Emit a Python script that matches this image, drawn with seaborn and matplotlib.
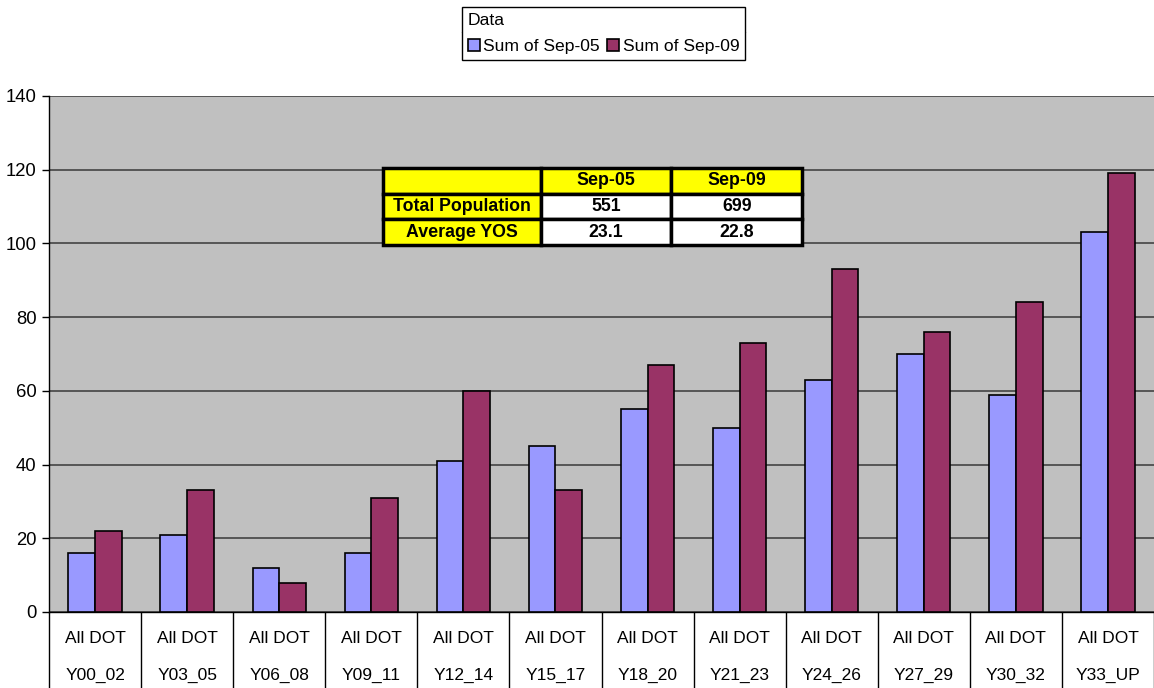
import numpy as np
import pandas as pd
import matplotlib
matplotlib.use("Agg")
import matplotlib.pyplot as plt
from matplotlib.patches import Patch
from matplotlib.lines import Line2D
import seaborn as sns

# Headcount by years-of-service band
groups = ["All DOT\nY00_02", "All DOT\nY03_05", "All DOT\nY06_08", "All DOT\nY09_11",
          "All DOT\nY12_14", "All DOT\nY15_17", "All DOT\nY18_20", "All DOT\nY21_23",
          "All DOT\nY24_26", "All DOT\nY27_29", "All DOT\nY30_32", "All DOT\nY33_UP"]
sep05 = [16, 21, 12, 16, 41, 45, 55, 50, 63, 70, 59, 103]
sep09 = [22, 33, 8, 31, 60, 33, 67, 73, 93, 76, 84, 119]
series = ["Sum of Sep-05", "Sum of Sep-09"]
yticks = [0, 20, 40, 60, 80, 100, 120, 140]

# Summary table
table_cols = ["", "Sep-05", "Sep-09"]
table_rows = [["Total Population", "551", "699"],
              ["Average YOS", "23.1", "22.8"]]

colors = ["#9999FF", "#993366"]

df = pd.DataFrame({
    "group": groups * 2,
    "value": sep05 + sep09,
    "series": [series[0]] * len(groups) + [series[1]] * len(groups),
})

sns.set_theme(style="white")
plt.rcParams["font.family"] = ["Liberation Sans", "DejaVu Sans"]

fig = plt.figure(figsize=(11.54, 6.88), dpi=100)
ax = fig.add_axes([49 / 1154, 1 - 612 / 688, 1 - 49 / 1154, (612 - 96) / 688])
ax.set_facecolor("#C0C0C0")

sns.barplot(data=df, x="group", y="value", hue="series", palette=colors,
            saturation=1, width=0.58, gap=0, edgecolor="black", linewidth=1.2,
            ax=ax, legend=False, zorder=3)

ax.set_ylim(0, 140)
ax.set_xlim(-0.5, len(groups) - 0.5)
ax.set_yticks(yticks)
ax.yaxis.grid(True, color="#4d4d4d", linewidth=1.3, zorder=0)
ax.set_axisbelow(True)
ax.set_xlabel("")
ax.set_ylabel("")

for side in ["top", "right"]:
    ax.spines[side].set_visible(False)
for side in ["left", "bottom"]:
    ax.spines[side].set_color("black")
    ax.spines[side].set_linewidth(1.0)

ax.tick_params(axis="y", which="major", left=True, length=5, width=1,
               color="black", labelsize=13.3, pad=4, labelcolor="black")
ax.set_xticks(range(len(groups)))
ax.set_xticklabels(groups, fontsize=12.5, linespacing=2.75, color="black")
ax.tick_params(axis="x", which="major", bottom=False, pad=8)
ax.set_xticks(np.arange(-0.5, len(groups)), minor=True)
ax.tick_params(axis="x", which="minor", bottom=True, length=56, width=1,
               color="black")

# Summary table inside the plot area
tbl = ax.table(cellText=table_rows, colLabels=table_cols,
               colWidths=[157, 130, 130], cellLoc="center",
               bbox=[(383 - 49) / 1105, (612 - 245) / 516,
                     (802 - 383) / 1105, (245 - 168) / 516])
tbl.auto_set_font_size(False)
for (r, c), cell in tbl.get_celld().items():
    cell.set_edgecolor("black")
    cell.set_linewidth(2.5)
    cell.get_text().set_fontsize(12.8)
    cell.get_text().set_fontweight("bold")
    cell.get_text().set_color("black")
    if r == 0 or c == 0:
        cell.set_facecolor("#FFFF00")
    else:
        cell.set_facecolor("white")
tbl.set_zorder(5)

# Legend box with a "Data" header row
handles = [Patch(facecolor=colors[i], edgecolor="black", linewidth=1.2)
           for i in range(2)]
leg = fig.legend(handles, series, loc="upper left",
                 bbox_to_anchor=(462 / 1154, 1 - 7 / 688), ncol=2,
                 title="Data", alignment="left", fontsize=12.6,
                 title_fontsize=12.6, frameon=True, fancybox=False,
                 edgecolor="black", framealpha=1, borderpad=0.32,
                 labelspacing=0.65,
                 handlelength=0.7, handleheight=0.7, handletextpad=0.2,
                 columnspacing=0.4, borderaxespad=0)
leg.get_frame().set_linewidth(1.0)
for t in leg.get_texts():
    t.set_color("black")
leg.get_title().set_color("black")

fig.canvas.draw()
lb = leg.get_window_extent()
tb = leg.get_title().get_window_extent()
y_sep = (tb.y0 - 4) / fig.bbox.height
x0 = lb.x0 / fig.bbox.width
x1 = lb.x1 / fig.bbox.width
fig.add_artist(Line2D([x0, x1], [y_sep, y_sep], color="black",
                      linewidth=1.0, transform=fig.transFigure))

fig.savefig("out.png", dpi=100)
